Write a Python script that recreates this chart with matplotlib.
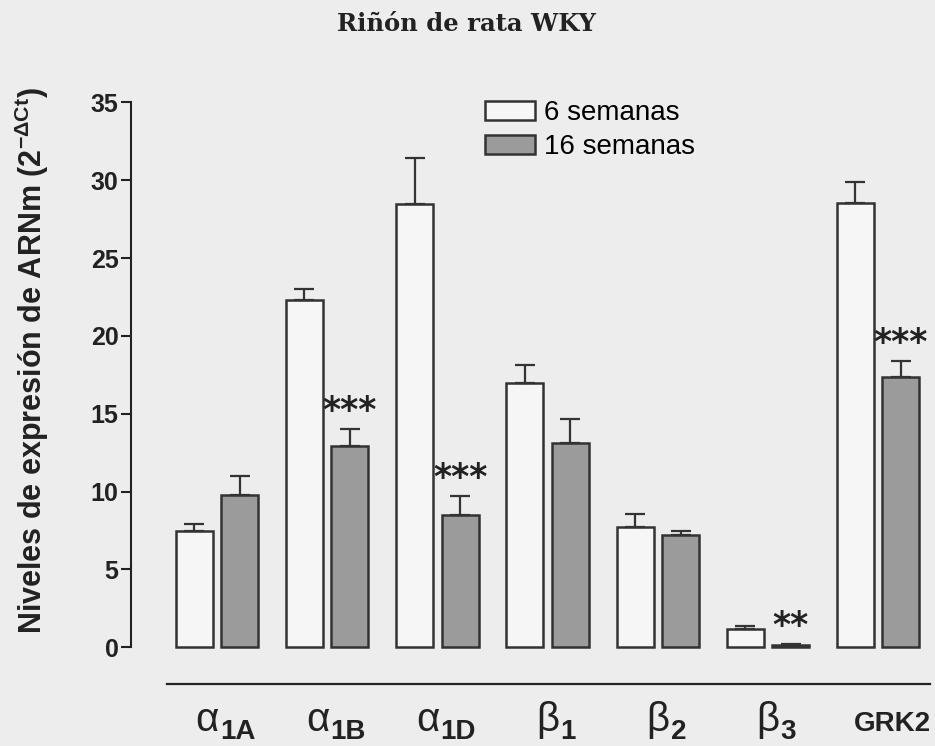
import numpy as np
import matplotlib.pyplot as plt

plt.rcParams['font.family'] = ['Liberation Sans', 'DejaVu Sans']
plt.rcParams['mathtext.fontset'] = 'custom'
plt.rcParams['mathtext.rm'] = 'Liberation Sans:bold'
plt.rcParams['mathtext.bf'] = 'Liberation Sans:bold'
plt.rcParams['mathtext.it'] = 'Liberation Sans:bold'

# datos
simbolos = ['α', 'α', 'α', 'β', 'β', 'β', 'GRK2']
subindices = ['1A', '1B', '1D', '1', '2', '3', '']
seis = [7.45, 22.3, 28.45, 17.0, 7.7, 1.2, 28.55]
seis_err = [0.45, 0.7, 3.0, 1.15, 0.85, 0.2, 1.3]
dieciseis = [9.8, 12.95, 8.5, 13.15, 7.2, 0.15, 17.35]
dieciseis_err = [1.2, 1.05, 1.2, 1.5, 0.25, 0.05, 1.05]
signif = ['', '***', '***', '', '', '**', '***']

fondo = '#ededed'
borde = '#333333'

fig = plt.figure(figsize=(9.35, 7.46), dpi=100, facecolor=fondo)
ax = fig.add_axes([131/935, 98.7/746, 799/935, 545/746])
ax.set_facecolor('none')

x = np.arange(len(seis))
w = 0.336
d = 0.206

ax.bar(x - d, seis, w, color='#f6f6f6', edgecolor=borde, linewidth=1.8, clip_on=False, label='6 semanas')
ax.bar(x + d, dieciseis, w, color='#9b9b9b', edgecolor=borde, linewidth=1.8, clip_on=False, label='16 semanas')
ax.errorbar(x - d, seis, yerr=[np.zeros(len(x)), seis_err], fmt='none', ecolor=borde,
            elinewidth=1.6, capsize=7, capthick=1.6, clip_on=False)
ax.errorbar(x + d, dieciseis, yerr=[np.zeros(len(x)), dieciseis_err], fmt='none', ecolor=borde,
            elinewidth=1.6, capsize=7, capthick=1.6, clip_on=False)

# asteriscos de significacion
for i in range(len(x)):
    if signif[i]:
        ax.annotate(signif[i], (x[i] + d, dieciseis[i] + dieciseis_err[i]), xytext=(0, 13),
                    textcoords='offset points', ha='center', va='center',
                    fontsize=25, fontweight='bold', family='DejaVu Sans', color='#222222')

ax.set_xlim((131 - 217) / 110.2, (930 - 217) / 110.2)
ax.set_ylim(0, 35)
ax.set_yticks(range(0, 36, 5))
ax.tick_params(axis='y', length=7, width=1.5, labelsize=18, pad=2, colors='#222222')
for t in ax.get_yticklabels():
    t.set_fontweight('bold')
ax.set_xticks([])
for s in ['top', 'right', 'bottom']:
    ax.spines[s].set_visible(False)
ax.spines['left'].set_linewidth(1.5)
ax.spines['left'].set_color('#222222')

# linea horizontal bajo el grafico
ax.plot([(167 - 131) / 799, 1.0], [-36.5 / 545, -36.5 / 545], transform=ax.transAxes,
        clip_on=False, color='#222222', lw=1.6)

# etiquetas del eje x (simbolo + subindice)
fig.canvas.draw()
r = fig.canvas.get_renderer()
for i in range(len(x)):
    if subindices[i] == '':
        ax.annotate(simbolos[i], (x[i], 0), xycoords=('data', 'axes fraction'),
                    xytext=(14, -84), textcoords='offset pixels', ha='center', va='baseline',
                    fontsize=20, fontweight='bold', color='#222222')
        continue
    t1 = ax.annotate(simbolos[i], (x[i], 0), xycoords=('data', 'axes fraction'),
                     xytext=(0, -84), textcoords='offset pixels', ha='left', va='baseline',
                     fontsize=29, color='#222222')
    t2 = ax.annotate(subindices[i], (x[i], 0), xycoords=('data', 'axes fraction'),
                     xytext=(0, -92), textcoords='offset pixels', ha='left', va='baseline',
                     fontsize=20, fontweight='bold', color='#222222')
    w1 = t1.get_window_extent(r).width
    w2 = t2.get_window_extent(r).width
    x0 = -(w1 + w2) / 2 + 8
    t1.xyann = (x0, -84)
    t2.xyann = (x0 + w1 + 1, -92)

ax.legend(loc='upper left', bbox_to_anchor=(485 / 935, 1 - 100 / 746),
          bbox_transform=fig.transFigure, frameon=False,
          fontsize=20, borderpad=0, borderaxespad=0, handlelength=1.8, handleheight=0.68,
          handletextpad=0.32, labelspacing=0.3)

fig.text(32 / 935, 1 - 361 / 746, r'Niveles de expresión de ARNm (2$^{-\Delta Ct}$)',
         rotation=90, ha='center', va='center', fontsize=22, fontweight='bold', color='#222222')
fig.text(466 / 935, 1 - 24 / 746, 'Riñón de rata WKY', ha='center', va='center',
         fontsize=17.5, fontweight='bold', family='DejaVu Serif', color='#222222')

fig.savefig('out.png', dpi=100, facecolor=fondo)
